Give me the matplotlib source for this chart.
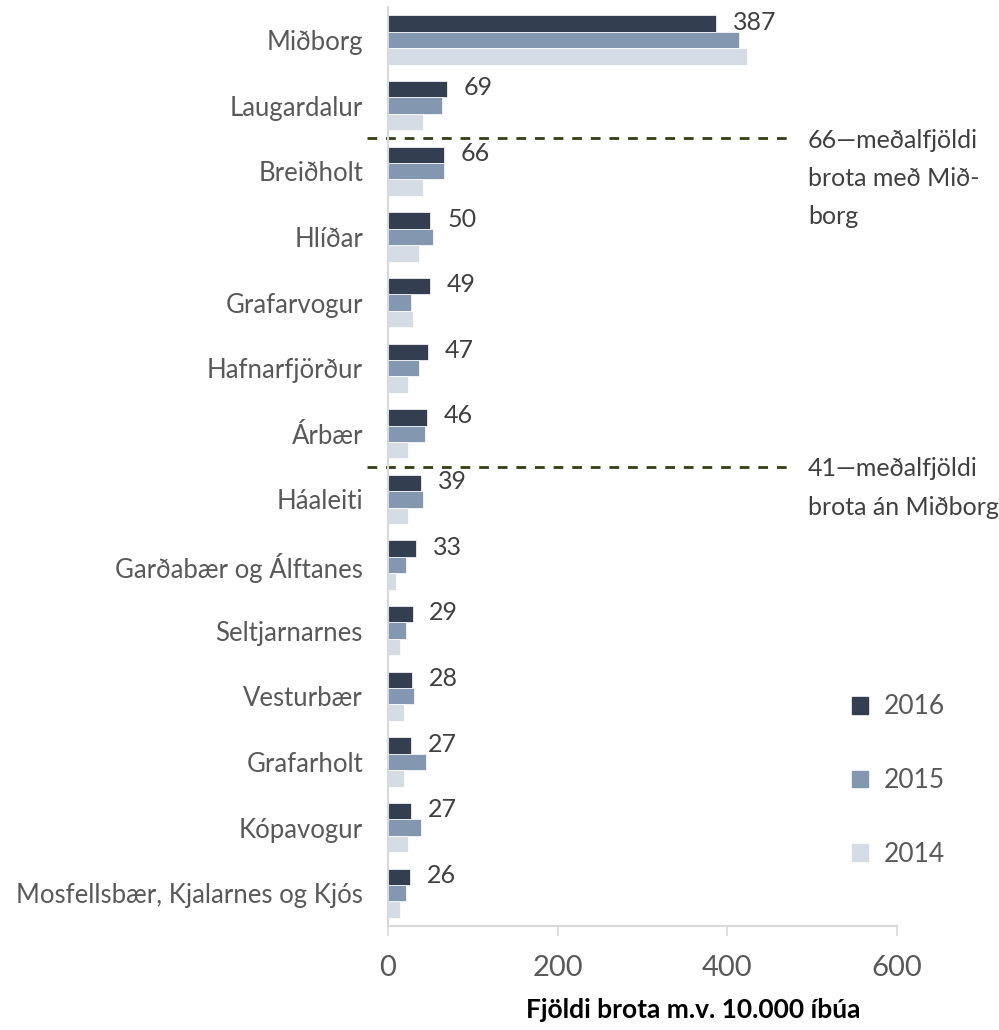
import matplotlib.pyplot as plt
from matplotlib.patches import Patch
import numpy as np

plt.rcParams['font.family'] = ['Lato', 'DejaVu Sans']

# Data
districts = ['Miðborg', 'Laugardalur', 'Breiðholt', 'Hlíðar', 'Grafarvogur',
             'Hafnarfjörður', 'Árbær', 'Háaleiti', 'Garðabær og Álftanes',
             'Seltjarnarnes', 'Vesturbær', 'Grafarholt', 'Kópavogur',
             'Mosfellsbær, Kjalarnes og Kjós']
v2016 = [387, 69, 66, 50, 49, 47, 46, 39, 33, 29, 28, 27, 27, 26]
v2015 = [414, 64, 66, 53, 27, 36, 44, 41, 21, 21, 31, 45, 39, 21]
v2014 = [423, 41, 41, 36, 29, 24, 24, 24, 10, 14, 19, 19, 24, 14]
years = ['2016', '2015', '2014']
avg_with = 66
avg_without = 41

c2016 = '#333F50'
c2015 = '#8497B0'
c2014 = '#D6DCE5'
grey = '#595959'

fig = plt.figure(figsize=(9.99, 10.30), dpi=100)
ax = fig.add_axes([0.3884, 0.101, 0.5095, 0.892])

y = np.arange(len(districts))
h = 0.25
ax.barh(y - h, v2016, height=h, color=c2016, edgecolor='white', linewidth=0.5)
ax.barh(y, v2015, height=h, color=c2015, edgecolor='white', linewidth=0.5)
ax.barh(y + h, v2014, height=h, color=c2014, edgecolor='white', linewidth=0.5)

# value labels for 2016
for yi, v in zip(y, v2016):
    ax.annotate(str(v), (v, yi - h), xytext=(12, 1), textcoords='offset points',
                ha='left', va='center', fontsize=18, color='#404040')

ax.set_xlim(0, 600)
ax.set_ylim(len(districts) - 0.5, -0.5)
ax.set_xticks([0, 200, 400, 600])
ax.set_yticks(y)
ax.set_yticklabels(districts)
ax.tick_params(axis='y', length=0, pad=18, labelsize=18.5, labelcolor=grey)
ax.tick_params(axis='x', length=7, width=1.2, color='#D9D9D9', pad=14,
               labelsize=21, labelcolor=grey)
for s in ['top', 'right']:
    ax.spines[s].set_visible(False)
for s in ['left', 'bottom']:
    ax.spines[s].set_color('#D9D9D9')
    ax.spines[s].set_linewidth(1.5)

fig.text(693 / 999, 1 - 1010 / 1030, 'Fjöldi brota m.v. 10.000 íbúa', fontsize=19,
         fontweight='bold', color='black', ha='center', va='center')

# average lines
line_col = '#333F13'
for pos in [1.5, 6.5]:
    ax.plot([-25, 472], [pos, pos], color=line_col, linestyle=(0, (3.5, 3.2)),
            linewidth=2, clip_on=False)

ax.text(495, 1.35, f'{avg_with}—meðalfjöldi\nbrota með Mið-\nborg', ha='left', va='top',
        fontsize=18, color='#404040', linespacing=1.8, clip_on=False)
ax.text(495, 6.36, f'{avg_without}—meðalfjöldi\nbrota án Miðborg', ha='left', va='top',
        fontsize=18, color='#404040', linespacing=1.8, clip_on=False)

handles = [Patch(color=c) for c in [c2016, c2015, c2014]]
ax.legend(handles, years, loc='center left', bbox_to_anchor=(0.865, 0.158),
          frameon=False, fontsize=19, labelcolor=grey, handlelength=0.6,
          handleheight=0.6, handletextpad=0.6, labelspacing=1.85)

fig.savefig('out.png', dpi=100)
